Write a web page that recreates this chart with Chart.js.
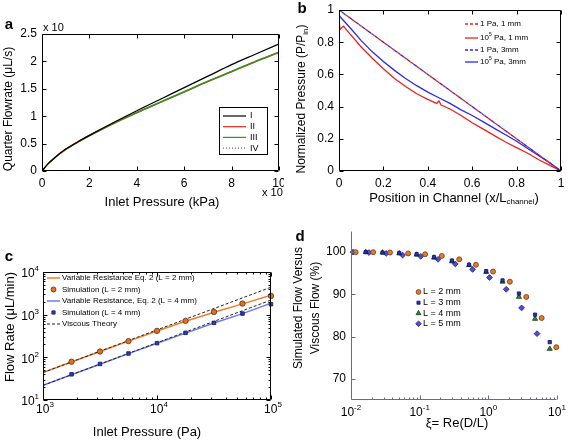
<!DOCTYPE html>
<html>
<head>
<meta charset="utf-8">
<title>Flow figure</title>
<script src="https://cdn.jsdelivr.net/npm/chart.js@4.4.1/dist/chart.umd.min.js"></script>
<style>
  html, body { margin: 0; padding: 0; background: #fff; }
  #wrap { position: relative; width: 568px; height: 442px; overflow: hidden; }
  canvas { position: absolute; }
</style>
</head>
<body>
<div id="wrap">
  <canvas id="chartA" width="284" height="221" style="left:0;top:0"></canvas>
  <canvas id="chartB" width="284" height="221" style="left:284px;top:0"></canvas>
  <canvas id="chartC" width="284" height="221" style="left:0;top:221px"></canvas>
  <canvas id="chartD" width="284" height="221" style="left:284px;top:221px"></canvas>
</div>
<script>
const SANS = '"Liberation Sans", Arial, Helvetica, sans-serif';

// a - quarter flowrate vs inlet pressure
const aPressure = [0, 0.25, 0.5, 1, 1.5, 2, 3, 4, 5, 6, 7, 8, 9, 10];
const aFlowI   = [0, 0.13, 0.23, 0.40, 0.53, 0.65, 0.88, 1.10, 1.31, 1.52, 1.73, 1.94, 2.13, 2.32];
const aFlowII  = [0, 0.13, 0.23, 0.39, 0.52, 0.64, 0.86, 1.06, 1.25, 1.44, 1.63, 1.81, 1.99, 2.16];
const aFlowIII = [0, 0.13, 0.23, 0.40, 0.53, 0.65, 0.87, 1.07, 1.26, 1.45, 1.64, 1.82, 2.00, 2.17];
const aFlowIV  = [0, 0.13, 0.23, 0.40, 0.53, 0.65, 0.87, 1.07, 1.26, 1.45, 1.64, 1.82, 2.00, 2.17];
const aXTicks = [0, 2, 4, 6, 8, 10];
const aYTicks = [0, 0.5, 1, 1.5, 2, 2.5];

// b - normalized pressure along channel
const bLinX = [0, 1];
const bLinP = [1, 0];
const bRedX = [0, 0.005, 0.02, 0.05, 0.1, 0.15, 0.2, 0.25, 0.3, 0.35, 0.4, 0.44, 0.45, 0.46, 0.5, 0.55, 0.6, 0.65, 0.7, 0.75, 0.8, 0.85, 0.9, 0.95, 1];
const bRedP = [0.93, 0.88, 0.90, 0.85, 0.77, 0.70, 0.635, 0.575, 0.525, 0.48, 0.445, 0.42, 0.435, 0.41, 0.385, 0.345, 0.30, 0.26, 0.22, 0.18, 0.145, 0.11, 0.07, 0.035, 0];
const bBlueX = [0, 0.01, 0.05, 0.1, 0.15, 0.2, 0.25, 0.3, 0.35, 0.4, 0.45, 0.5, 0.55, 0.6, 0.65, 0.7, 0.75, 0.8, 0.85, 0.9, 0.95, 1];
const bBlueP = [0.97, 0.95, 0.89, 0.81, 0.74, 0.68, 0.625, 0.575, 0.53, 0.49, 0.455, 0.42, 0.38, 0.345, 0.305, 0.265, 0.225, 0.185, 0.14, 0.095, 0.05, 0];
const bXTicks = [0, 0.2, 0.4, 0.6, 0.8, 1];
const bYTicks = [0, 0.2, 0.4, 0.6, 0.8, 1];

// c - flow rate vs inlet pressure (log-log)
const cModelP = [1000, 1778, 3162, 5623, 10000, 17783, 31623, 56234, 100000];
const cModel2 = [44, 78, 137, 240, 415, 700, 1140, 1790, 2850];
const cModel4 = [22, 39, 69, 122, 213, 370, 635, 1060, 1850];
const cSimP = [1780, 3160, 5620, 10000, 17800, 31600, 56200, 100000];
const cSim2 = [79, 137, 240, 417, 716, 1160, 1820, 2750];
const cSim4 = [40, 70, 123, 215, 375, 643, 1060, 1760];
const cViscP = [1000, 100000];
const cVisc2 = [44, 4400];
const cVisc4 = [22, 2200];
const cXTicks = [1e3, 1e4, 1e5];
const cYTicks = [1e1, 1e2, 1e3, 1e4];

// d - simulated vs viscous flow
const dXi2 = [0.0117, 0.021, 0.037, 0.068, 0.12, 0.21, 0.377, 0.66, 1.17, 2.06, 3.57, 5.98, 9.77];
const dL2  = [100, 100, 99.9, 99.7, 99.5, 99.1, 98.3, 97.0, 95.4, 93.0, 89.4, 84.4, 77.5];
const dXi3 = [0.0164, 0.0288, 0.0504, 0.0903, 0.162, 0.295, 0.524, 0.93, 1.61, 2.79, 4.79, 7.84];
const dL3  = [100, 99.9, 99.8, 99.5, 98.8, 98.0, 97.0, 95.5, 93.3, 90.2, 85.2, 78.7];
const dXi4 = [0.0164, 0.0288, 0.0504, 0.0903, 0.162, 0.295, 0.524, 0.93, 1.61, 2.79, 4.79, 7.84];
const dL4  = [100, 99.9, 99.7, 99.4, 98.7, 97.8, 96.9, 95.3, 93.0, 89.4, 84.2, 77.1];
const dXi5 = [0.0107, 0.0183, 0.0325, 0.0564, 0.1035, 0.185, 0.33, 0.59, 1.04, 1.82, 3.05, 5.12];
const dL5  = [100, 99.9, 99.7, 99.3, 99.0, 98.3, 97.2, 95.9, 94.0, 91.2, 86.8, 80.7];
const dXTicks = [0.01, 0.1, 1, 10];
const dYTicks = [70, 80, 90, 100];

const pts = (xs, ys) => xs.map((x, i) => ({ x: x, y: ys[i] }));
const font = (px, bold) => (bold ? 'bold ' : '') + px + 'px ' + SANS;

// text made of parts: [text, ''|'sub'|'sup']
function drawRich(ctx, parts, x, y, px, o) {
  o = o || {};
  ctx.save();
  ctx.translate(x, y);
  if (o.rot) ctx.rotate(o.rot);
  ctx.fillStyle = o.color || '#000';
  ctx.textBaseline = 'middle';
  ctx.textAlign = 'left';
  const sizes = parts.map(p => p[1] ? Math.round(px * 0.65) : px);
  let total = 0;
  parts.forEach((p, i) => { ctx.font = font(sizes[i], o.bold); total += ctx.measureText(p[0]).width; });
  let cx = o.align === 'left' ? 0 : o.align === 'right' ? -total : -total / 2;
  parts.forEach((p, i) => {
    ctx.font = font(sizes[i], o.bold);
    const dy = p[1] === 'sub' ? px * 0.3 : p[1] === 'sup' ? -px * 0.4 : 0;
    ctx.fillText(p[0], cx, dy);
    cx += ctx.measureText(p[0]).width;
  });
  ctx.restore();
}

function logLabel(v) {
  return [['10', ''], [String(Math.round(Math.log10(v))), 'sup']];
}

function minorValues(scale) {
  const out = [];
  for (let d = Math.floor(Math.log10(scale.min)); d < Math.ceil(Math.log10(scale.max)); d++) {
    for (let k = 2; k <= 9; k++) {
      const v = k * Math.pow(10, d);
      if (v > scale.min && v < scale.max) out.push(v);
    }
  }
  return out;
}

// axes box and inward ticks, matlab style
function frame(chart, o) {
  const ctx = chart.ctx, a = chart.chartArea, xs = chart.scales.x, ys = chart.scales.y;
  const L = Math.round(a.left) + 0.5, R = Math.round(a.right) - 0.5;
  const T = Math.round(a.top) + 0.5, B = Math.round(a.bottom) - 0.5;
  ctx.save();
  ctx.strokeStyle = o.color || '#000';
  ctx.lineWidth = 1;
  ctx.beginPath();
  ctx.moveTo(L, T); ctx.lineTo(L, B); ctx.lineTo(R, B);
  if (o.box) { ctx.lineTo(R, T); ctx.lineTo(L, T); }
  const xt = (v, len) => {
    const p = Math.round(xs.getPixelForValue(v)) + 0.5;
    ctx.moveTo(p, B); ctx.lineTo(p, B - len);
    if (o.box) { ctx.moveTo(p, T); ctx.lineTo(p, T + len); }
  };
  const yt = (v, len) => {
    const p = Math.round(ys.getPixelForValue(v)) + 0.5;
    ctx.moveTo(L, p); ctx.lineTo(L + len, p);
    if (o.box) { ctx.moveTo(R, p); ctx.lineTo(R - len, p); }
  };
  xs.ticks.forEach(t => xt(t.value, 4));
  ys.ticks.forEach(t => yt(t.value, 4));
  if (o.logX) minorValues(xs).forEach(v => xt(v, 2));
  if (o.logY) minorValues(ys).forEach(v => yt(v, 2));
  ctx.stroke();
  ctx.restore();
}

function axis(extra, size, isX, tickVals) {
  const base = {
    grid: { display: false, drawTicks: false },
    border: { display: false },
    ticks: {
      color: '#000', font: { family: SANS, size: 12 }, padding: 5, maxRotation: 0, autoSkip: false,
      callback: v => String(Math.round(v * 1000) / 1000)
    },
    afterBuildTicks: s => { s.ticks = tickVals.map(v => ({ value: v })); },
    afterFit: s => {
      if (isX) s.height = size; else s.width = size;
      s.paddingLeft = s.paddingRight = s.paddingTop = s.paddingBottom = 0;
    }
  };
  return Object.assign(base, extra);
}

function sampleLine(ctx, x1, x2, y, color, width, dash) {
  ctx.save();
  ctx.strokeStyle = color;
  ctx.lineWidth = width;
  ctx.setLineDash(dash || []);
  ctx.beginPath(); ctx.moveTo(x1, y); ctx.lineTo(x2, y); ctx.stroke();
  ctx.restore();
}

function sampleMarker(ctx, style, x, y, r, fill, stroke) {
  ctx.save();
  ctx.fillStyle = fill; ctx.strokeStyle = stroke;
  Chart.helpers.drawPoint(ctx, { pointStyle: style, radius: r, borderWidth: 0.8, rotation: 0 }, x, y);
  ctx.restore();
}

const common = {
  responsive: false,
  animation: false,
  devicePixelRatio: 1,
  events: [],
  plugins: { legend: { display: false }, tooltip: { enabled: false } }
};

const line = (data, color, width, extra) => Object.assign({
  data: data, showLine: true, borderColor: color, borderWidth: width, pointRadius: 0, fill: false
}, extra || {});

const marks = (data, style, r, fill, stroke) => ({
  data: data, showLine: false, pointStyle: style, pointRadius: r, backgroundColor: fill,
  borderColor: stroke, borderWidth: 0.8, clip: false
});

// ---------- a ----------
new Chart(document.getElementById('chartA'), {
  type: 'scatter',
  data: { datasets: [
    line(pts(aPressure, aFlowI), '#000000', 1.3, { cubicInterpolationMode: 'monotone' }),
    line(pts(aPressure, aFlowIII), '#1f9e1f', 1.3, { cubicInterpolationMode: 'monotone' }),
    line(pts(aPressure, aFlowII), '#e5261c', 1.3, { cubicInterpolationMode: 'monotone' }),
    line(pts(aPressure, aFlowIV), '#5a5aff', 1, { cubicInterpolationMode: 'monotone', borderDash: [1, 2] })
  ]},
  options: Object.assign({}, common, {
    layout: { padding: { left: 0, top: 34, right: 5, bottom: 0 } },
    scales: {
      x: axis({ type: 'linear', min: 0, max: 10 }, 50, true, aXTicks),
      y: axis({ type: 'linear', min: 0, max: 2.5 }, 42, false, aYTicks)
    }
  }),
  plugins: [{
    id: 'decorA',
    afterDraw(chart) {
      const ctx = chart.ctx;
      frame(chart, { box: true });
      drawRich(ctx, [['a', '']], 9, 25, 15, { bold: true });
      drawRich(ctx, [['x 10', '']], 43, 28, 11, { align: 'left' });
      drawRich(ctx, [['x 10', '']], 262, 193, 11, { align: 'left' });
      drawRich(ctx, [['Inlet Pressure (kPa)', '']], 162, 202, 13);
      drawRich(ctx, [['Quarter Flowrate (μL/s)', '']], 9, 109, 12, { rot: -Math.PI / 2 });
      // legend
      ctx.save();
      ctx.fillStyle = '#fff'; ctx.fillRect(219.5, 107.5, 48, 47);
      ctx.strokeStyle = '#000'; ctx.lineWidth = 1; ctx.strokeRect(219.5, 107.5, 48, 47);
      ctx.restore();
      const rows = [['I', '#000000', []], ['II', '#e5261c', []], ['III', '#1f9e1f', []], ['IV', '#5a5aff', [1, 2]]];
      rows.forEach((r, i) => {
        const y = 116 + i * 10.7;
        sampleLine(ctx, 223, 246, y, r[1], 1.2, r[2]);
        drawRich(ctx, [[r[0], '']], 250, y, 9, { align: 'left' });
      });
    }
  }]
});

// ---------- b ----------
new Chart(document.getElementById('chartB'), {
  type: 'scatter',
  data: { datasets: [
    line(pts(bLinX, bLinP), '#e8231c', 1.3, { borderDash: [4, 4] }),
    line(pts(bLinX, bLinP), '#2b2be6', 1.3, { borderDash: [4, 4], borderDashOffset: 4 }),
    line(pts(bBlueX, bBlueP), '#2b2be6', 1.3),
    line(pts(bRedX, bRedP), '#e8231c', 1.3)
  ]},
  options: Object.assign({}, common, {
    layout: { padding: { left: 0, top: 10, right: 7, bottom: 0 } },
    scales: {
      x: axis({ type: 'linear', min: 0, max: 1 }, 50, true, bXTicks),
      y: axis({ type: 'linear', min: 0, max: 1 }, 55, false, bYTicks)
    }
  }),
  plugins: [{
    id: 'decorB',
    afterDraw(chart) {
      const ctx = chart.ctx;
      frame(chart, { box: true });
      drawRich(ctx, [['b', '']], 18, 9, 15, { bold: true });
      drawRich(ctx, [['Position in Channel (x/L', ''], ['channel', 'sub'], [')', '']], 170, 198, 13);
      drawRich(ctx, [['Normalized Pressure (P/P', ''], ['in', 'sub'], [')', '']], 18, 99, 12, { rot: -Math.PI / 2 });
      const rows = [
        [[['1 Pa, 1 mm', '']], '#e8231c', [3, 2]],
        [[['10', ''], ['5', 'sup'], [' Pa, 1 mm', '']], '#e8231c', []],
        [[['1 Pa, 3mm', '']], '#2b2be6', [3, 2]],
        [[['10', ''], ['5', 'sup'], [' Pa, 3mm', '']], '#2b2be6', []]
      ];
      const ys = [24, 38, 50, 62];
      rows.forEach((r, i) => {
        sampleLine(ctx, 181, 194, ys[i], r[1], 1.3, r[2]);
        drawRich(ctx, r[0], 196, ys[i], 8, { align: 'left' });
      });
    }
  }]
});

// ---------- c ----------
new Chart(document.getElementById('chartC'), {
  type: 'scatter',
  data: { datasets: [
    marks(pts(cSimP, cSim2), 'circle', 2.7, '#e2711d', '#5a3010'),
    marks(pts(cSimP, cSim4), 'rect', 2.5, '#2a3cc0', '#16164a'),
    line(pts(cViscP, cVisc2), '#222222', 1, { borderDash: [3, 2] }),
    line(pts(cViscP, cVisc4), '#222222', 1, { borderDash: [3, 2] }),
    line(pts(cModelP, cModel2), '#f47b2a', 1.5),
    line(pts(cModelP, cModel4), '#6c7cf2', 1.5)
  ]},
  options: Object.assign({}, common, {
    layout: { padding: { left: 0, top: 51, right: 13, bottom: 0 } },
    scales: {
      x: axis({ type: 'logarithmic', min: 1e3, max: 1e5 }, 42, true, cXTicks),
      y: axis({ type: 'logarithmic', min: 1e1, max: 1e4 }, 43, false, cYTicks)
    }
  }),
  plugins: [{
    id: 'decorC',
    beforeInit(chart) {
      chart.options.scales.x.ticks.display = false;
      chart.options.scales.y.ticks.display = false;
    },
    afterDraw(chart) {
      const ctx = chart.ctx, xs = chart.scales.x, ys = chart.scales.y;
      frame(chart, { box: true, logX: true, logY: true });
      xs.ticks.forEach(t => drawRich(ctx, logLabel(t.value), xs.getPixelForValue(t.value) + 2, 189, 12));
      ys.ticks.forEach(t => drawRich(ctx, logLabel(t.value), 39, ys.getPixelForValue(t.value) + 2, 12, { align: 'right' }));
      drawRich(ctx, [['c', '']], 9, 36, 15, { bold: true });
      drawRich(ctx, [['Inlet Pressure (Pa)', '']], 147, 211, 13);
      drawRich(ctx, [['Flow Rate (μL/min)', '']], 10, 106, 13, { rot: -Math.PI / 2 });
      const ly = [57, 68.5, 80, 91.5, 103];
      sampleLine(ctx, 47, 60, ly[0], '#f47b2a', 1.5);
      sampleMarker(ctx, 'circle', 53.5, ly[1], 2.5, '#e2711d', '#5a3010');
      sampleLine(ctx, 47, 60, ly[2], '#6c7cf2', 1.5);
      sampleMarker(ctx, 'rect', 53.5, ly[3], 2.3, '#2a3cc0', '#16164a');
      sampleLine(ctx, 47, 60, ly[4], '#222222', 1, [3, 2]);
      const texts = ['Variable Resistance Eq. 2 (L = 2 mm)', 'Simulation (L = 2 mm)',
        'Variable Resistance, Eq. 2 (L = 4 mm)', 'Simulation (L = 4 mm)', 'Viscous Theory'];
      texts.forEach((t, i) => drawRich(ctx, [[t, '']], 62, ly[i], 8, { align: 'left' }));
    }
  }]
});

// ---------- d ----------
new Chart(document.getElementById('chartD'), {
  type: 'scatter',
  data: { datasets: [
    marks(pts(dXi2, dL2), 'circle', 2.5, '#e8782a', '#6a3a18'),
    marks(pts(dXi3, dL3), 'rect', 2.3, '#2234c0', '#10105a'),
    marks(pts(dXi4, dL4), 'triangle', 2.9, '#2f8a3a', '#103a10'),
    marks(pts(dXi5, dL5), 'rectRot', 2.9, '#4b4be6', '#20206a')
  ]},
  options: Object.assign({}, common, {
    layout: { padding: { left: 0, top: 10, right: 11, bottom: 0 } },
    scales: {
      x: axis({ type: 'logarithmic', min: 0.01, max: 10 }, 42, true, dXTicks),
      y: axis({ type: 'linear', min: 65, max: 105 }, 67, false, dYTicks)
    }
  }),
  plugins: [{
    id: 'decorD',
    beforeInit(chart) {
      chart.options.scales.x.ticks.display = false;
    },
    afterDraw(chart) {
      const ctx = chart.ctx, xs = chart.scales.x;
      frame(chart, { box: false, logX: true, color: '#6f6a7a' });
      xs.ticks.forEach(t => drawRich(ctx, logLabel(t.value), xs.getPixelForValue(t.value), 192, 12));
      drawRich(ctx, [['d', '']], 16, 16, 15, { bold: true });
      drawRich(ctx, [['ξ= Re(D/L)', '']], 173, 202, 13);
      drawRich(ctx, [['Simulated Flow Versus', '']], 15, 87, 12, { rot: -Math.PI / 2 });
      drawRich(ctx, [['Viscous Flow (%)', '']], 32, 87, 12, { rot: -Math.PI / 2 });
      const rows = [
        ['circle', 2.4, '#e8782a', '#6a3a18', 'L = 2 mm'],
        ['rect', 2.2, '#2234c0', '#10105a', 'L = 3 mm'],
        ['triangle', 2.8, '#2f8a3a', '#103a10', 'L = 4 mm'],
        ['rectRot', 2.8, '#4b4be6', '#20206a', 'L = 5 mm']
      ];
      const ly = [71, 81.7, 92.3, 102.7];
      rows.forEach((r, i) => {
        sampleMarker(ctx, r[0], 134.5, ly[i], r[1], r[2], r[3]);
        drawRich(ctx, [[r[4], '']], 139, ly[i], 9, { align: 'left' });
      });
    }
  }]
});
</script>
</body>
</html>
